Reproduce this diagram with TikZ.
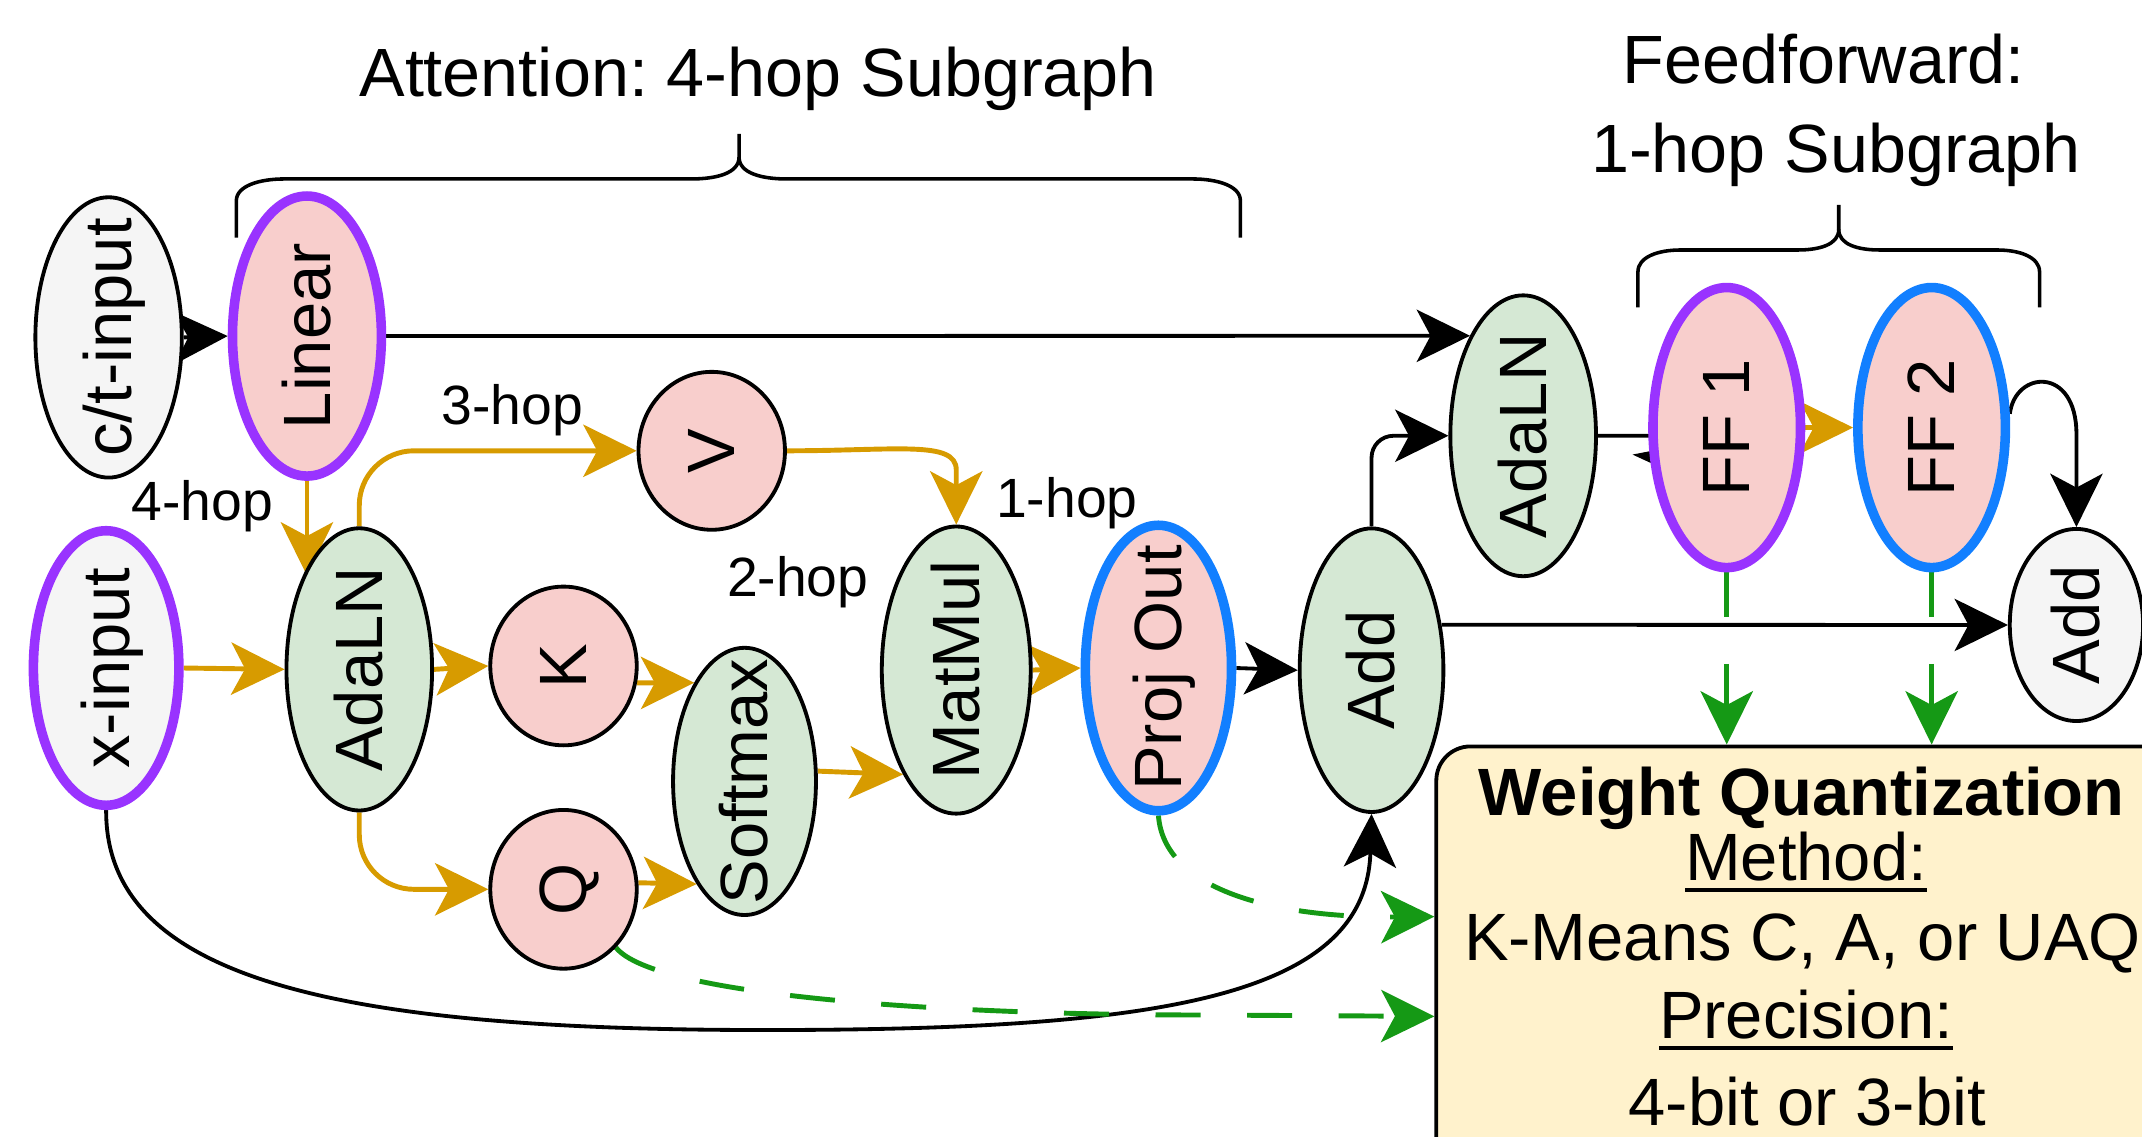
\documentclass[tikz,border=0pt]{standalone}
\usepackage{fontspec}
\setmainfont{Liberation Sans}
\frenchspacing
\usetikzlibrary{shapes.geometric,arrows.meta,calc,backgrounds}
\definecolor{goldc}{HTML}{D79B00}
\definecolor{grnc}{HTML}{159915}
\definecolor{purpc}{HTML}{9933FF}
\definecolor{bluec}{HTML}{127FFF}
\definecolor{pinkf}{HTML}{F8CECC}
\definecolor{greenf}{HTML}{D5E8D4}
\definecolor{grayf}{HTML}{F5F5F5}
\definecolor{yellf}{HTML}{FFF2CC}
\newcommand\vlab[1]{\makebox[0pt]{\raisebox{-.5\height}[0pt][0pt]{\rotatebox{90}{\rule[-0.212em]{0pt}{1.117em}#1}}}}
\newcommand\ulx[1]{\setbox0\hbox{#1}\rlap{\rule[-8.8pt]{\wd0}{3pt}}\box0}
\tikzset{
 nd/.style={ellipse, inner sep=0pt, draw=black, line width=2.8pt, font=\fontsize{49}{58}\selectfont},
 grayn/.style={nd, fill=grayf},
 pinkn/.style={nd, fill=pinkf},
 greenn/.style={nd, fill=greenf},
 purpb/.style={draw=purpc, line width=7pt},
 blueb/.style={draw=bluec, line width=7pt},
 myarr/.style={-{Stealth[length=39pt 0 0, width'=0pt 0.98, inset'=0pt 0.26]}},
 blk/.style={myarr, draw=black, line width=2.8pt},
 gld/.style={myarr, draw=goldc, line width=3.6pt},
 grn/.style={myarr, draw=grnc, line width=3.6pt, dash pattern=on 33pt off 34pt},
 brc/.style={draw=black, line width=2.6pt},
 ttl/.style={inner sep=0pt, anchor=base, font=\fontsize{50}{58}\selectfont},
 hop/.style={inner sep=0pt, anchor=base, font=\fontsize{40.5}{48}\selectfont},
 qtxt/.style={inner sep=0pt, anchor=base, font=\fontsize{49}{58}\selectfont},
 qbox/.style={rectangle, rounded corners=25pt, draw=black, line width=2.8pt, fill=yellf, anchor=north west, minimum width=545pt, minimum height=420pt}
}
\begin{document}
\begin{tikzpicture}[x=1pt,y=-1pt]
\useasboundingbox (0,0) rectangle (1568,832.3);
\clip (0,0) rectangle (1568,832.3);

% nodes
\node[grayn, minimum width=107.2pt, minimum height=205.2pt] (ct) at (79.5,247) {\vlab{c/t-input}};
\node[pinkn, purpb, minimum width=109pt, minimum height=205pt] (lin) at (224.7,246) {\vlab{Linear}};
\node[grayn, purpb, minimum width=106.5pt, minimum height=201pt] (xin) at (77.7,489) {\vlab{x-input}};
\node[greenn, minimum width=106.6pt, minimum height=206.6pt] (a1) at (263,490) {\vlab{AdaLN}};
\node[pinkn, minimum width=107.2pt, minimum height=115.6pt] (v) at (521,330) {\vlab{V}};
\node[pinkn, minimum width=107.2pt, minimum height=116.2pt] (k) at (412.5,487.5) {\vlab{K}};
\node[pinkn, minimum width=107.2pt, minimum height=116.2pt] (q) at (412.5,651) {\vlab{Q}};
\node[greenn, minimum width=104.6pt, minimum height=195.6pt] (sm) at (545,572) {\vlab{Softmax}};
\node[greenn, minimum width=109pt, minimum height=210.2pt] (mm) at (700,490.5) {\vlab{MatMul}};
\node[pinkn, blueb, minimum width=107pt, minimum height=209pt] (po) at (848,489) {\vlab{Proj Out}};
\node[greenn, minimum width=105.2pt, minimum height=207.6pt] (add1) at (1004,490.6) {\vlab{Add}};
\node[greenn, minimum width=106.6pt, minimum height=205.6pt] (a2) at (1115,319) {\vlab{AdaLN}};
\node[pinkn, purpb, minimum width=108pt, minimum height=205pt] (ff1) at (1264,313) {\vlab{FF 1}};
\node[pinkn, blueb, minimum width=108pt, minimum height=205pt] (ff2) at (1414,313) {\vlab{FF 2}};
\node[grayn, minimum width=97.6pt, minimum height=140.6pt] (add2) at (1520,457.5) {\vlab{Add}};

% quantization box
\node[qbox] (wq) at (1050,545) {};
\node[qtxt, font=\fontsize{49}{58}\selectfont\bfseries] (wq1) at (1319,596.6) {Weight Quantization};
\node[qtxt] (wq2) at (1322,644.2) {\ulx{Method:}};
\node[qtxt] (wq3) at (1319.5,702.8) {K-Means C, A, or UAQ};
\node[qtxt] (wq4) at (1322,760) {\ulx{Precision:}};
\node[qtxt] (wq5) at (1323,824) {4-bit or 3-bit};

% titles
\node[ttl] (tA) at (555,71) {Attention: 4-hop Subgraph};
\node[ttl] (tF1) at (1335,61) {Feedforward:};
\node[ttl] (tF2) at (1344,126) {1-hop Subgraph};

% hop labels
\node[hop] (h4) at (148,381) {4-hop};
\node[hop] (h3) at (375,311) {3-hop};
\node[hop] (h2) at (584,437) {2-hop};
\node[hop] (h1) at (781,379) {1-hop};

% braces
\draw[brc] (173,174) -- (173,147) .. controls (173,136) and (190,131) .. (208,131) -- (506,131) .. controls (524,131) and (541,127) .. (541,115) -- (541,98);
\draw[brc] (541,115) .. controls (541,127) and (558,131) .. (576,131) -- (873,131) .. controls (891,131) and (908,136) .. (908,147) -- (908,174);
\draw[brc] (1199,225) -- (1199,199) .. controls (1199,188) and (1214,183) .. (1230,183) -- (1316,183) .. controls (1332,183) and (1346,179) .. (1346,168) -- (1346,150);
\draw[brc] (1346,168) .. controls (1346,179) and (1360,183) .. (1376,183) -- (1462,183) .. controls (1478,183) and (1493,188) .. (1493,199) -- (1493,225);

% edges
\begin{pgfonlayer}{background}
\draw[blk] (ct.east) -- (lin.west);
\draw[blk] (lin.east) -- (a2.118);
\draw[gld] (lin.south) -- (lin.south |- a1.121);
\draw[gld, rounded corners=40pt] (a1.north) |- (v.west);
\draw[gld] (a1.east) -- (k.west);
\draw[gld, rounded corners=40pt] (a1.south) |- (q.west);
\draw[gld] (k.-13) -- (sm.117);
\draw[gld] (q.5) -- (sm.245);
\draw[gld] (v.east) .. controls +(80,0) and +(0,-22) .. ($(mm.north)+(0,-40)$) -- (mm.north);
\draw[gld] (sm.8) -- (mm.243);
\draw[gld] (mm.east) -- (po.west);
\draw[blk] (po.east) -- (add1.west);
\draw[gld] (xin.east) -- (a1.west);
\draw[blk] (xin.south) .. controls (77,718) and (250,754) .. (560,754) .. controls (850,754) and (1000,730) .. (add1.south);
\draw[blk, rounded corners=16pt] (add1.north) |- (a2.west);
\draw[blk] (a2.east) -- ++(39,0) -- ++(26,32);
\draw[gld] (ff1.east) -- (ff2.west);
\draw[blk] (ff2.10) .. controls +(4,-32) and +(0,-50) .. ($(add2.north)+(0,-68)$) -- (add2.north);
\draw[blk] (add1.33) -- (add2.west);
\draw[grn] (ff1.south) -- (ff1.south |- wq.north);
\draw[grn] (ff2.south) -- (ff2.south |- wq.north);
\draw[grn] (po.south) .. controls +(4,54) and +(-119,1) .. ($(wq.north west)+(0,126)$);
\draw[grn] (q.-48) .. controls (480,730) and (700,743) .. (880,743) -- ($(wq.north west)+(0,199)$);
\end{pgfonlayer}
\end{tikzpicture}
\end{document}
